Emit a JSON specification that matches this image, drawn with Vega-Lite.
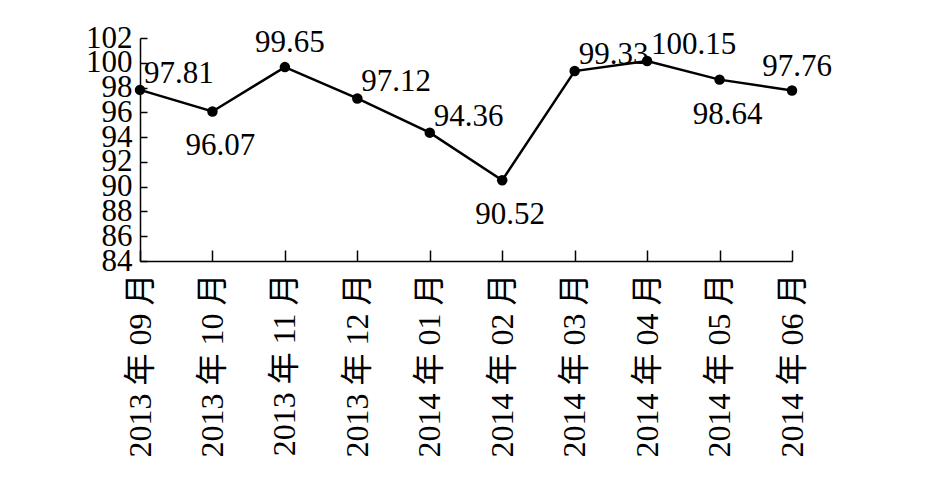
{
  "$schema": "https://vega.github.io/schema/vega-lite/v6.json",
  "width": 652,
  "height": 223,
  "autosize": "none",
  "padding": {"left": 140, "top": 38, "right": 153, "bottom": 236},
  "background": "white",
  "config": {"view": {"stroke": null}, "font": "'Liberation Serif', 'Noto Sans CJK SC', serif"},
  "data": {
    "values": [
      {"month": "2013 年 09 月", "value": 97.81},
      {"month": "2013 年 10 月", "value": 96.07},
      {"month": "2013 年 11 月", "value": 99.65},
      {"month": "2013 年 12 月", "value": 97.12},
      {"month": "2014 年 01 月", "value": 94.36},
      {"month": "2014 年 02 月", "value": 90.52},
      {"month": "2014 年 03 月", "value": 99.33},
      {"month": "2014 年 04 月", "value": 100.15},
      {"month": "2014 年 05 月", "value": 98.64},
      {"month": "2014 年 06 月", "value": 97.76}
    ]
  },
  "encoding": {
    "x": {
      "field": "month", "type": "ordinal", "sort": null,
      "scale": {"type": "point", "padding": 0},
      "axis": {
        "title": null, "labelAngle": -90, "labelFont": "'Liberation Serif', 'Noto Sans CJK SC', serif",
        "labelFontSize": 32, "labelColor": "black", "labelPadding": 23, "labelLimit": 400,
        "domainColor": "black", "domainWidth": 1.5, "tickColor": "black", "tickWidth": 1.5,
        "tickSize": -11, "grid": false, "labelOverlap": false
      }
    },
    "y": {
      "field": "value", "type": "quantitative",
      "scale": {"domain": [84, 102], "zero": false, "nice": false},
      "axis": {
        "title": null, "values": [84, 86, 88, 90, 92, 94, 96, 98, 100, 102],
        "labelFont": "'Liberation Serif', serif", "labelFontSize": 31, "labelColor": "black",
        "labelPadding": 15, "labelOverlap": false, "labelFlush": false,
        "domainColor": "black", "domainWidth": 1.5,
        "tickColor": "black", "tickWidth": 1.5, "tickSize": -7, "grid": false
      }
    }
  },
  "layer": [
    {"mark": {"type": "line", "color": "black", "strokeWidth": 2.5}},
    {"mark": {"type": "point", "filled": true, "color": "black", "size": 110, "opacity": 1}},
    {
      "transform": [{"filter": {"field": "month", "oneOf": ["2013 年 09 月", "2013 年 12 月", "2014 年 01 月", "2014 年 03 月", "2014 年 04 月"]}}],
      "mark": {"type": "text", "align": "left", "baseline": "middle", "dx": 4, "dy": -16, "fontSize": 31, "color": "black", "font": "'Liberation Serif', serif"},
      "encoding": {"text": {"field": "value", "type": "quantitative", "format": ".2f"}}
    },
    {
      "transform": [{"filter": {"field": "month", "oneOf": ["2013 年 11 月", "2014 年 06 月"]}}],
      "mark": {"type": "text", "align": "center", "baseline": "middle", "dx": 5, "dy": -24, "fontSize": 31, "color": "black", "font": "'Liberation Serif', serif"},
      "encoding": {"text": {"field": "value", "type": "quantitative", "format": ".2f"}}
    },
    {
      "transform": [{"filter": {"field": "month", "oneOf": ["2013 年 10 月", "2014 年 02 月", "2014 年 05 月"]}}],
      "mark": {"type": "text", "align": "center", "baseline": "middle", "dx": 8, "dy": 35, "fontSize": 31, "color": "black", "font": "'Liberation Serif', serif"},
      "encoding": {"text": {"field": "value", "type": "quantitative", "format": ".2f"}}
    }
  ]
}
